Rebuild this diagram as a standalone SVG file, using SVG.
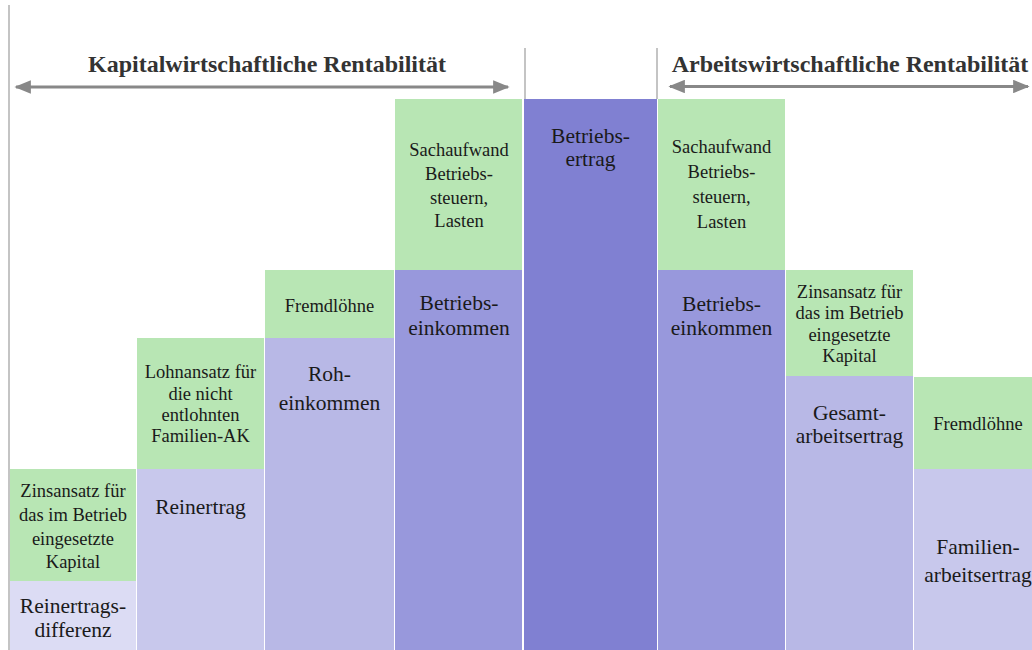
<svg xmlns="http://www.w3.org/2000/svg" width="1032" height="650" viewBox="0 0 1032 650">
<defs>
<style>
.g{fill:#b8e6b4}
.p1{fill:#dcdcf4}
.p2{fill:#c8c8ec}
.p3{fill:#b8b8e6}
.p4{fill:#9898dc}
.p5{fill:#8080d2}
text{font-family:"Liberation Serif","Times New Roman",serif;fill:#1a1a1a;text-anchor:middle}
.s{font-size:18.5px}
.l{font-size:21.5px}
.t{font-size:24px;font-weight:bold;fill:#333}
.vl{stroke:#c4c4c4;stroke-width:2;fill:none}
.ar{stroke:#888;stroke-width:3;fill:none}
</style>
<marker id="ah" viewBox="0 0 10 10" refX="9" refY="5" markerWidth="5.5" markerHeight="4.5" orient="auto-start-reverse" markerUnits="strokeWidth" preserveAspectRatio="none">
<path d="M0,0 L10,5 L0,10 z" fill="#888"/>
</marker>
</defs>
<rect width="1032" height="650" fill="#fff"/>

<g id="connectors">
<line class="vl" x1="9" y1="5" x2="9" y2="650"/>
<line class="vl" x1="525" y1="48" x2="525" y2="99"/>
<line class="vl" x1="657" y1="48" x2="657" y2="99"/>
<line class="ar" x1="16" y1="87" x2="508" y2="87" marker-start="url(#ah)" marker-end="url(#ah)"/>
<line class="ar" x1="670" y1="86.5" x2="1028" y2="86.5" marker-start="url(#ah)" marker-end="url(#ah)"/>
</g>

<g id="title-kapital"><text class="t" x="267" y="72">Kapitalwirtschaftliche Rentabilität</text></g>
<g id="title-arbeit"><text class="t" x="850" y="72">Arbeitswirtschaftliche Rentabilität</text></g>

<g id="col1">
<rect class="g" x="10" y="469" width="126" height="112"/>
<rect class="p1" x="10" y="581" width="126" height="69"/>
<text class="s" x="73"><tspan x="73" y="497">Zinsansatz für</tspan><tspan x="73" y="521">das im Betrieb</tspan><tspan x="73" y="545">eingesetzte</tspan><tspan x="73" y="568">Kapital</tspan></text>
<text class="l" x="73"><tspan x="73" y="613">Reinertrags-</tspan><tspan x="73" y="637">differenz</tspan></text>
</g>

<g id="col2">
<rect class="g" x="137" y="338" width="127" height="131"/>
<rect class="p2" x="137" y="469" width="127" height="181"/>
<text class="s" x="200.5"><tspan x="200.5" y="378">Lohnansatz für</tspan><tspan x="200.5" y="399.5">die nicht</tspan><tspan x="200.5" y="421">entlohnten</tspan><tspan x="200.5" y="442">Familien-AK</tspan></text>
<text class="l" x="200.5" y="514">Reinertrag</text>
</g>

<g id="col3">
<rect class="g" x="265" y="270" width="129" height="68"/>
<rect class="p3" x="265" y="338" width="129" height="312"/>
<text class="s" x="329.5" y="312">Fremdlöhne</text>
<text class="l" x="329.5"><tspan x="329.5" y="381">Roh-</tspan><tspan x="329.5" y="410">einkommen</tspan></text>
</g>

<g id="col4">
<rect class="g" x="395" y="99" width="127" height="171"/>
<rect class="p4" x="395" y="270" width="127" height="380"/>
<text class="s" x="459"><tspan x="459" y="156">Sachaufwand</tspan><tspan x="459" y="180">Betriebs-</tspan><tspan x="459" y="203.5">steuern,</tspan><tspan x="459" y="227">Lasten</tspan></text>
<text class="l" x="459"><tspan x="459" y="310">Betriebs-</tspan><tspan x="459" y="335">einkommen</tspan></text>
</g>

<g id="col5">
<rect class="p5" x="524" y="99" width="133" height="551"/>
<text class="l" x="590.5"><tspan x="590.5" y="143">Betriebs-</tspan><tspan x="590.5" y="166">ertrag</tspan></text>
</g>

<g id="col6">
<rect class="g" x="658" y="99" width="127" height="171"/>
<rect class="p4" x="658" y="270" width="127" height="380"/>
<text class="s" x="721.5"><tspan x="721.5" y="153">Sachaufwand</tspan><tspan x="721.5" y="178">Betriebs-</tspan><tspan x="721.5" y="203">steuern,</tspan><tspan x="721.5" y="228">Lasten</tspan></text>
<text class="l" x="721.5"><tspan x="721.5" y="311">Betriebs-</tspan><tspan x="721.5" y="335">einkommen</tspan></text>
</g>

<g id="col7">
<rect class="g" x="786" y="270" width="127" height="106"/>
<rect class="p3" x="786" y="376" width="127" height="274"/>
<text class="s" x="849.5"><tspan x="849.5" y="298">Zinsansatz für</tspan><tspan x="849.5" y="319">das im Betrieb</tspan><tspan x="849.5" y="340.5">eingesetzte</tspan><tspan x="849.5" y="362">Kapital</tspan></text>
<text class="l" x="849.5"><tspan x="849.5" y="420">Gesamt-</tspan><tspan x="849.5" y="443">arbeitsertrag</tspan></text>
</g>

<g id="col8">
<rect class="g" x="914" y="377" width="128" height="92"/>
<rect class="p2" x="914" y="469" width="128" height="181"/>
<text class="s" x="978" y="430">Fremdlöhne</text>
<text class="l" x="978"><tspan x="978" y="554">Familien-</tspan><tspan x="978" y="582">arbeitsertrag</tspan></text>
</g>
</svg>
